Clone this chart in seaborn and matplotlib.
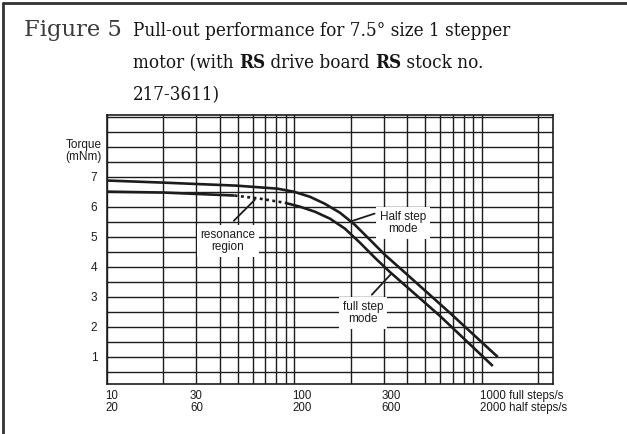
import matplotlib
matplotlib.use("Agg")
import matplotlib.pyplot as plt
import matplotlib.ticker as mticker
import matplotlib.transforms as mtrans
from matplotlib.lines import Line2D
import pandas as pd
import seaborn as sns

# ---------------- data ----------------
half_freq = [10, 20, 49, 81, 99, 121, 145, 175, 210, 253, 304, 379, 675, 1217]
half_torque = [6.87, 6.80, 6.70, 6.60, 6.50, 6.33, 6.10, 5.80, 5.40, 4.90, 4.40,
               3.87, 2.47, 1.00]

full_freq = [10, 20, 48, 65, 89, 107, 129, 155, 186, 224, 269, 323, 597, 1145]
full_torque = [6.50, 6.47, 6.37, 6.27, 6.13, 6.00, 5.83, 5.60, 5.27, 4.80, 4.30,
               3.83, 2.37, 0.70]
resonance_lo = 48
resonance_hi = 89

x_label_pos = [10, 30, 100, 300, 1000]
x_labels = ["10\n20", "30\n60", "100\n200", "300\n600",
            "1000 full steps/s\n2000 half steps/s"]
x_grid = [20, 30, 40, 50, 60, 70, 80, 90, 200, 300, 400, 500, 600, 700, 800, 900,
          2000]
y_label_pos = [1, 2, 3, 4, 5, 6, 7]
y_grid = [0.5, 1.5, 2.5, 3.5, 4.5, 5.5, 6.5, 7.5, 8, 8.5, 9]

# ---------------- style ----------------
sns.set_style("white")
plt.rcParams['font.family'] = ['Liberation Sans', 'DejaVu Sans']

W, H = 627, 434
fig = plt.figure(figsize=(W / 100, H / 100), dpi=100)
ax = fig.add_axes([107 / W, 1 - 384 / H, (553 - 107) / W, (384 - 115) / H])

half = pd.DataFrame({"freq": half_freq, "torque": half_torque})
full = pd.DataFrame({"freq": full_freq, "torque": full_torque})
ink = "#1c1c1c"
lw = 1.9

sns.lineplot(data=half, x="freq", y="torque", ax=ax, color=ink, lw=lw,
             sort=False, estimator=None, zorder=5)
seg1 = full[full.freq <= resonance_lo]
seg2 = full[(full.freq >= resonance_lo) & (full.freq <= resonance_hi)]
seg3 = full[full.freq >= resonance_hi]
sns.lineplot(data=seg1, x="freq", y="torque", ax=ax, color=ink, lw=lw,
             sort=False, estimator=None, zorder=5)
sns.lineplot(data=seg2, x="freq", y="torque", ax=ax, color=ink, lw=lw,
             sort=False, estimator=None, zorder=5, linestyle=(0, (1.1, 1.3)))
sns.lineplot(data=seg3, x="freq", y="torque", ax=ax, color=ink, lw=lw,
             sort=False, estimator=None, zorder=5)
for ln in ax.lines:
    ln.set_solid_joinstyle("round")
    ln.set_solid_capstyle("butt")

ax.set_xscale("log")
ax.set_xlim(10, 2400)
ax.set_ylim(0.1, 9.05)
ax.set_xlabel("")
ax.set_ylabel("")

ax.xaxis.set_major_locator(mticker.FixedLocator([10, 100, 1000]))
ax.xaxis.set_minor_locator(mticker.FixedLocator(x_grid))
ax.xaxis.set_major_formatter(mticker.NullFormatter())
ax.xaxis.set_minor_formatter(mticker.NullFormatter())
ax.yaxis.set_major_locator(mticker.FixedLocator(y_label_pos))
ax.yaxis.set_minor_locator(mticker.FixedLocator(y_grid))
ax.yaxis.set_major_formatter(mticker.FixedFormatter([str(v) for v in y_label_pos]))

ax.grid(which="both", color=ink, lw=1.0, zorder=1)
ax.set_axisbelow(True)
ax.tick_params(which="both", length=0)
ax.tick_params(axis="y", pad=7, labelsize=8.5, colors=ink)
for s in ax.spines.values():
    s.set_color(ink)
    s.set_linewidth(1.2)

# x tick labels (two rows: full steps / half steps)
xt = ax.get_xaxis_transform()
aligns = ["left", "center", "left", "left", "left"]
for pos, lab, ha in zip(x_label_pos, x_labels, aligns):
    dx = 0 if ha == "center" else -2
    ax.text(pos, 0, lab, ha=ha, va="top", fontsize=8.3, linespacing=1.0,
            color=ink,
            transform=xt + mtrans.ScaledTranslation(dx / 100, -6 / 100,
                                                    fig.dpi_scale_trans))

# y label
ax.text(-0.012, 7.85, "Torque\n(mNm)", transform=ax.get_yaxis_transform(),
        ha="right", va="center", fontsize=8.5, linespacing=1.0, color=ink)

# annotations
box = dict(boxstyle="square,pad=0.3", fc="white", ec="none")
ax.text(44, 4.85, "resonance\nregion", ha="center", va="center", fontsize=8.5,
        linespacing=1.05, color=ink, bbox=box, zorder=4)
ax.plot([47.5, 61.5], [5.53, 6.23], color=ink, lw=1.3, zorder=4)

ax.text(380, 5.45, "Half step\nmode", ha="center", va="center", fontsize=8.5,
        linespacing=1.05, color=ink, bbox=box, zorder=4)
ax.plot([268, 198], [5.77, 5.5], color=ink, lw=1.3, zorder=4)

ax.text(232, 2.47, "full step\nmode", ha="center", va="center", fontsize=8.5,
        linespacing=1.05, color=ink, bbox=box, zorder=4)
ax.plot([259, 327], [3.07, 3.75], color=ink, lw=1.3, zorder=4)

# ---------------- title ----------------
serif = ['DejaVu Serif']
tsize = 13.5
tkw = dict(fontsize=tsize, family=serif, fontstretch="condensed", color="#151515")

def fxy(x, y):
    return (x / W, 1 - y / H)

fig.text(*fxy(24, 36), "Figure 5", fontsize=16.3, family=serif, va="baseline",
         color="#3a3a3a")
fig.text(*fxy(133, 36), "Pull-out performance for 7.5° size 1 stepper",
         va="baseline", **tkw)
prev = fig.text(*fxy(133, 68), "motor (with ", va="baseline", **tkw)
for piece, weight in [("RS", "bold"), (" drive board ", "normal"),
                      ("RS", "bold"), (" stock no.", "normal")]:
    prev = ax.annotate(piece, xy=(1, 0), xycoords=prev, va="bottom", ha="left",
                       fontweight=weight, **tkw)
fig.text(*fxy(133, 100), "217-3611)", va="baseline", **tkw)

# frame (top and left rules)
fig.add_artist(Line2D([3 / W, 1], [1 - 3 / H, 1 - 3 / H], color="#333333", lw=2))
fig.add_artist(Line2D([3 / W, 3 / W], [0, 1 - 3 / H], color="#333333", lw=2))

fig.savefig("out.png", dpi=100)
